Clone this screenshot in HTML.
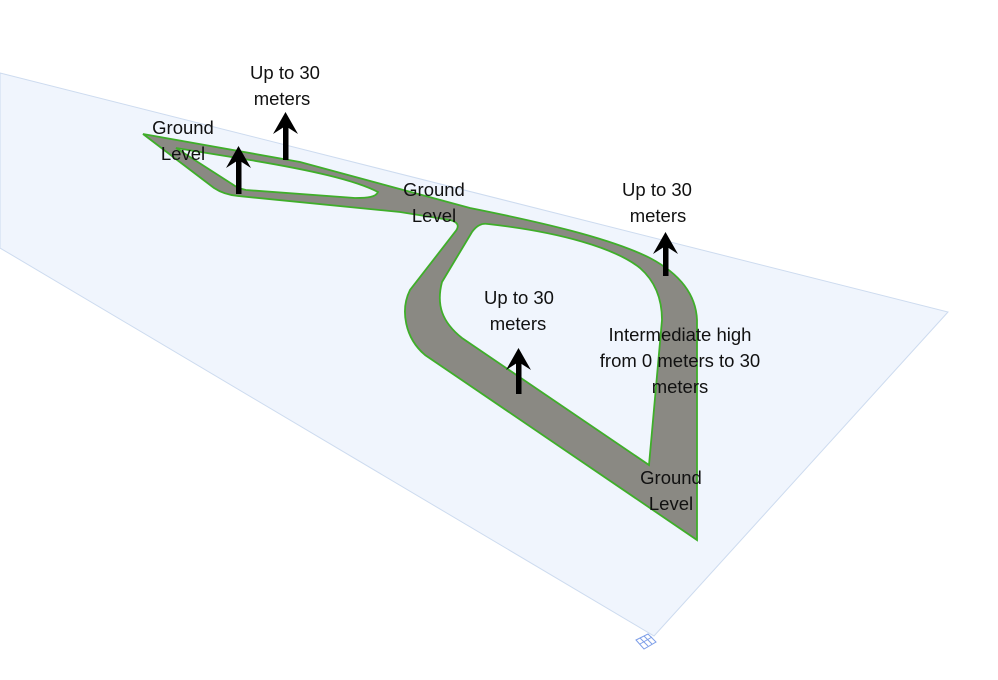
<!DOCTYPE html>
<html><head><meta charset="utf-8"><style>
html,body{margin:0;padding:0;background:#fff}
svg{display:block}
text{font-family:"Liberation Sans",sans-serif;font-size:18.5px;fill:#111;text-anchor:middle}
</style></head><body>
<svg width="998" height="680" viewBox="0 0 998 680" xmlns="http://www.w3.org/2000/svg">
<polygon points="0,73 948,312 654,636 0,248" fill="#f0f5fd" stroke="#cddbef" stroke-width="1"/>
<path fill-rule="evenodd" fill="#8a8983" stroke="#3fae2a" stroke-width="1.8" d="
M143,134 L300,162 L470,208 C540,222 610,238 650,258 C680,274 696,295 697,320 L697,540 L425,355 C405,338 400,310 410,290 L455,232 C460,226 458,222 450,220 L400,212 L238,196 C228,195 220,192 214,188 Z
M176,148 L250,160 C310,170 355,180 378,192 C376,197 368,198 355,198 L246,190 C240,189 236,187 232,184 Z
M488,224 C560,232 615,248 640,268 C656,282 662,300 662,320 L649,465 L462,338 C442,322 436,305 442,282 L472,232 C477,225 482,223 488,224 Z"/>
<g fill="#000">
<rect x="236" y="160" width="5.5" height="34"/><polygon points="238.5,146 226,168 238.5,160 251,168"/>
<rect x="283" y="126" width="5.5" height="34"/><polygon points="285.5,112 273,134 285.5,126 298,134"/>
<rect x="663" y="246" width="5.5" height="30"/><polygon points="665.5,232 653,254 665.5,246 678,254"/>
<rect x="516" y="362" width="5.5" height="32"/><polygon points="518.5,348 506,370 518.5,362 531,370"/>
</g>
<text x="285" y="79">Up to 30</text><text x="282" y="105">meters</text>
<text x="183" y="134">Ground</text><text x="183" y="160">Level</text>
<text x="434" y="196">Ground</text><text x="434" y="222">Level</text>
<text x="657" y="196">Up to 30</text><text x="658" y="222">meters</text>
<text x="519" y="304">Up to 30</text><text x="518" y="330">meters</text>
<text x="680" y="341">Intermediate high</text><text x="680" y="367">from 0 meters to 30</text><text x="680" y="393">meters</text>
<text x="671" y="484">Ground</text><text x="671" y="510">Level</text>
<g stroke="#7d9ee8" stroke-width="1" fill="none">
<polygon points="636,640 648,634 656,642 644,649"/>
<line x1="640" y1="638" x2="648" y2="646"/><line x1="644" y1="636" x2="652" y2="644"/>
<line x1="640" y1="644" x2="652" y2="637"/>
</g>
</svg>
</body></html>
